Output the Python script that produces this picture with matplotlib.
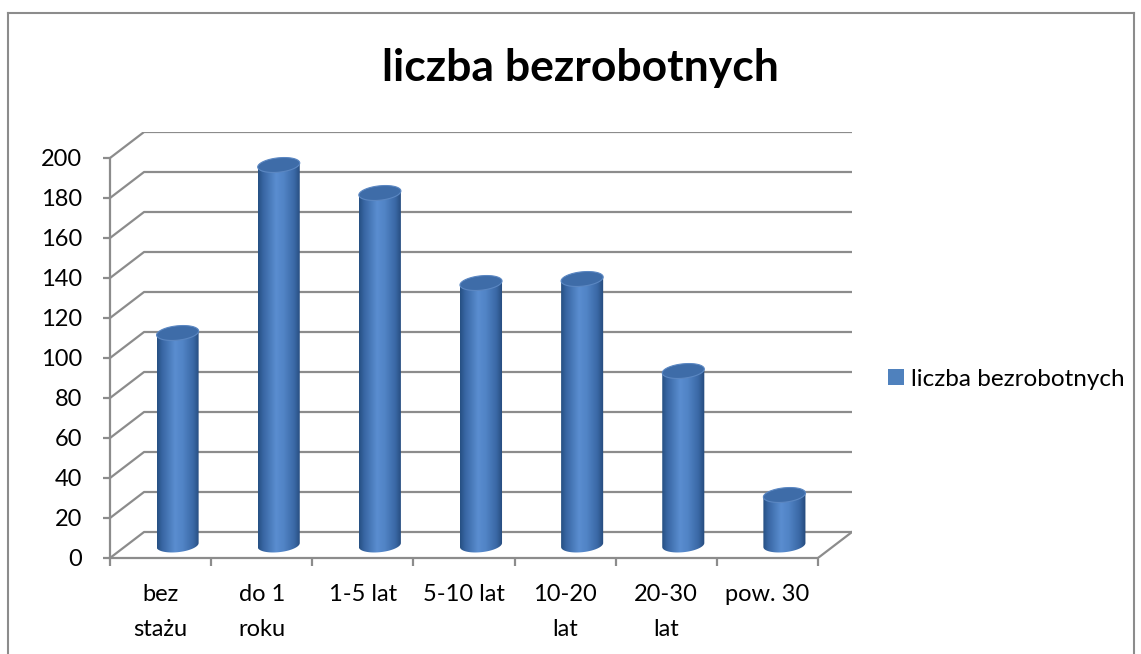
import numpy as np
import matplotlib
matplotlib.use("Agg")
import matplotlib.pyplot as plt
from matplotlib.patches import Polygon, Patch
from matplotlib.colors import LinearSegmentedColormap
from matplotlib.lines import Line2D

# ---- data ----
categories = ["bez\nstażu", "do 1\nroku", "1-5 lat", "5-10 lat", "10-20\nlat", "20-30\nlat", "pow. 30"]
values = [106, 190, 176, 131, 133, 87, 25]
series_name = "liczba bezrobotnych"
title = "liczba bezrobotnych"
y_ticks = list(range(0, 201, 20))

plt.rcParams['font.family'] = ['Lato', 'DejaVu Sans']

W, H = 1141, 654
fig = plt.figure(figsize=(W / 100, H / 100), dpi=100)

# 3-D look parameters (data units)
n = len(categories)
d = 34 / 101.0      # depth shift in category units
dz = 13.0           # depth shift in value units
ax_left, ax_right = 110, 852
ax_bottom, ax_top = 558, 132
ax = fig.add_axes([ax_left / W, 1 - ax_bottom / H, (ax_right - ax_left) / W, (ax_bottom - ax_top) / H])
xlim = (0, n + d)
ylim = (0, 213)

grid_c = "#8c8c8c"
# back wall gridlines
for v in y_ticks:
    ax.plot([0, d, n + d], [v, v + dz, v + dz], color=grid_c, lw=1.6, zorder=1, solid_capstyle='butt')
# floor right edge
ax.plot([n, n + d], [0, dz], color=grid_c, lw=1.6, zorder=1)

# cylinders
cmap = LinearSegmentedColormap.from_list("cyl", [
    (0.0, "#264f82"), (0.12, "#3866a3"), (0.42, "#5a8dd0"),
    (0.6, "#5184c6"), (0.85, "#3a68a5"), (1.0, "#24497a")])
grad = cmap(np.linspace(0, 1, 256))[None, :, :3]
w = 42 / 101.0
b = 3.6
k = 1.0
t = np.linspace(0, np.pi, 60)
for i, v in enumerate(values):
    cx = i + 0.5 + d / 2
    yb = dz / 2
    yt = yb + v
    a = w / 2
    bx = cx - a * np.cos(t)
    by = yb - b * np.sin(t) - k * np.cos(t)
    px = np.concatenate([bx, [cx + a, cx - a]])
    py = np.concatenate([by, [yt + k, yt - k]])
    body = Polygon(np.column_stack([px, py]), closed=True, facecolor="none", edgecolor="none")
    ax.add_patch(body)
    im = ax.imshow(grad, extent=[cx - a, cx + a, yb - b - 2, yt + b + 2], aspect='auto',
                   interpolation='bilinear', zorder=3)
    im.set_clip_path(body)
    tt = np.linspace(0, 2 * np.pi, 100)
    ex = cx + a * np.cos(tt)
    ey = yt + b * np.sin(tt) + k * np.cos(tt)
    ax.add_patch(Polygon(np.column_stack([ex, ey]), closed=True, facecolor="#3e6ca8",
                         edgecolor="#5b87c2", lw=0.8, zorder=4))

ax.set_xlim(*xlim)
ax.set_ylim(*ylim)
ax.set_autoscale_on(False)

# axes
for s in ["top", "right"]:
    ax.spines[s].set_visible(False)
ax.patch.set_alpha(0)
ax.spines["left"].set_bounds(0, 200)
ax.spines["bottom"].set_bounds(0, n)
for s in ["left", "bottom"]:
    ax.spines[s].set_color(grid_c)
    ax.spines[s].set_linewidth(1.6)
    ax.spines[s].set_zorder(2)
ax.set_yticks(y_ticks)
ax.set_yticklabels([str(v) for v in y_ticks])
ax.tick_params(axis='y', direction='out', length=5, width=1.6, color=grid_c, pad=15,
               labelsize=17, labelcolor="black")
ax.set_xticks(np.arange(0, n + 1), minor=True)
ax.set_xticks(np.arange(n) + 0.5)
ax.set_xticklabels(categories, linespacing=1.8)
ax.tick_params(axis='x', which='major', length=0, pad=19, labelsize=17, labelcolor="black")
ax.tick_params(axis='x', which='minor', direction='out', length=6, width=1.6, color=grid_c)
for lab in ax.get_xticklabels():
    lab.set_verticalalignment('top')

# title
fig.text(580 / W, 1 - 68 / H, title, ha='center', va='center', fontsize=32, fontweight='bold')

# legend
fig.legend(handles=[Patch(facecolor="#4f81bd", edgecolor="none")], labels=[series_name],
           loc='center left', bbox_to_anchor=(888 / W, 1 - 379 / H), frameon=False,
           handlelength=0.65, handleheight=0.65, handletextpad=0.3, fontsize=17.5,
           borderpad=0, borderaxespad=0)

# outer border
fig.add_artist(Line2D([7.5 / W, 7.5 / W], [0, 1 - 13 / H], transform=fig.transFigure, color=grid_c, lw=1.5))
fig.add_artist(Line2D([7.5 / W, 1133.5 / W], [1 - 13 / H, 1 - 13 / H], transform=fig.transFigure, color=grid_c, lw=1.5))
fig.add_artist(Line2D([1133.5 / W, 1133.5 / W], [0, 1 - 13 / H], transform=fig.transFigure, color=grid_c, lw=1.5))

fig.savefig("out.png", dpi=100)
